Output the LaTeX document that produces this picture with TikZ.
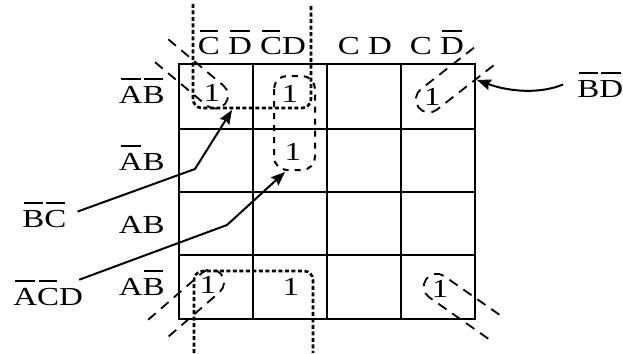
\documentclass[tikz,border=0pt]{standalone}
\usepackage{fontspec}
\setmainfont{Liberation Serif}
\usetikzlibrary{arrows.meta,positioning}
\newcommand{\ovl}[1]{{\setbox0=\hbox{#1}\rlap{\hskip0.08\wd0\rule[0.9em]{0.84\wd0}{0.065em}}\box0}}

\begin{document}
\begin{tikzpicture}[x=1pt,y=-1pt,
  lbl/.style={font=\fontsize{26}{29}\selectfont,inner sep=0pt,xscale=1.27,transform shape},
  grd/.style={line width=2.6pt},
  arr/.style={-{Stealth[length=14pt,width=11pt,inset=2pt]},line width=2pt},
  grp/.style={line width=2.6pt,dash pattern=on 4pt off 2.5pt,rounded corners=9pt},
  loopd/.style={line width=2pt,dash pattern=on 6pt off 6pt,rounded corners=13pt},
  cornr/.style={line width=1.8pt,dash pattern=on 10pt off 7pt}]
  \useasboundingbox (0,0) rectangle (623,353);
  \draw[grd] (179,64) rectangle (475,319);
  \foreach \x in {253,327,401} {\draw[grd] (\x,64) -- (\x,319);}
  \foreach \y in {129,192,255} {\draw[grd] (179,\y) -- (475,\y);}
  \node[lbl,anchor=base] (h1) at (225,55) {\ovl{C} \ovl{D}};
  \node[lbl,anchor=base] (h2) at (283,55) {\ovl{C}D};
  \node[lbl,anchor=base] (h3) at (365,55) {C D};
  \node[lbl,anchor=base] (h4) at (437,55) {C \ovl{D}};
  \node[lbl,anchor=base east] (r1) at (165,103) {\ovl{A}\ovl{B}};
  \node[lbl,anchor=base east] (r2) at (165,170) {\ovl{A}B};
  \node[lbl,anchor=base east] (r3) at (165,233) {AB};
  \node[lbl,anchor=base east] (r4) at (165,295) {A\ovl{B}};
  \node[lbl] (c11) at (212,93) {1};
  \node[lbl] (c12) at (290,94) {1};
  \node[lbl] (c14) at (432,97) {1};
  \node[lbl] (c22) at (293,152) {1};
  \node[lbl] (c41) at (208,285) {1};
  \node[lbl] (c42) at (291,287) {1};
  \node[lbl] (c44) at (440,289) {1};
  \node[lbl,anchor=base west] (bc) at (22,227) {\ovl{B}\ovl{C}};
  \node[lbl,anchor=base west] (acd) at (13,305) {\ovl{A}\ovl{C}D};
  \node[lbl,anchor=base west] (bd) at (577,97) {\ovl{B}\ovl{D}};
  \draw[grp] (193,4) -- (193,108) -- (311,108) -- (311,4);
  \draw[grp] (194,353) -- (194,271) -- (313,271) -- (313,353);
  \draw[loopd] (274,76) rectangle (315,170);
  \foreach \n/\a in {c11/140,c14/38,c44/-35,c41/221}
    {\draw[cornr,shift={(\n)},rotate=\a] (68,13) -- (-4,13) arc (90:270:13) -- (68,-13);}
  \coordinate (t1) at (232,110);
  \coordinate (t2) at (285,172);
  \coordinate (t3) at (477,80);
  \draw[arr] ([xshift=11pt,yshift=3pt]bc.east) -- (195,169) -- (t1);
  \draw[arr] ([xshift=-4pt]acd.north east) -- (227,225) -- (t2);
  \draw[arr] ([xshift=-14pt]bd.west) .. controls (540,94) and (510,92) .. (t3);
\end{tikzpicture}
\end{document}
